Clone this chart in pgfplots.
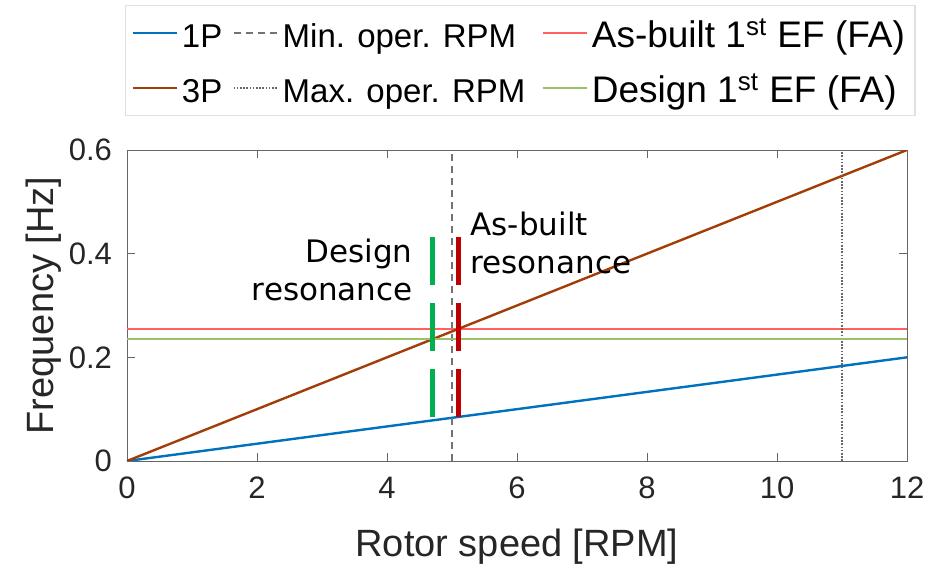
\documentclass[border=0pt]{standalone}
\usepackage{pgfplots}
\pgfplotsset{compat=1.18}
\usepackage{fontspec}
\setmainfont{Liberation Sans}
\newfontfamily\annfont{DejaVu Sans}

\definecolor{onep}{rgb}{0.0,0.447,0.741}
\definecolor{threep}{rgb}{0.64,0.24,0.03}
\definecolor{asbuilt}{rgb}{1.0,0.38,0.38}
\definecolor{design}{rgb}{0.60,0.76,0.40}
\definecolor{greenres}{rgb}{0.0,0.69,0.31}
\definecolor{redres}{rgb}{0.75,0.0,0.0}

\newcommand{\efsize}{\fontsize{18.5}{20}\selectfont}

\begin{document}
\begin{tikzpicture}
\begin{axis}[
  scale only axis,
  width=390pt, height=155.5pt,
  xmin=0, xmax=12, ymin=0, ymax=0.6,
  xtick={0,2,...,12},
  ytick={0,0.2,0.4,0.6},
  yticklabel style={/pgf/number format/fixed,/pgf/number format/precision=1, xshift=-4pt},
  xticklabel style={yshift=-4.5pt},
  /pgf/number format/assume math mode=true,
  tick align=inside,
  major tick length=4pt,
  axis line style={draw=black!60},
  tick style={draw=black!60},
  ticklabel style={font=\fontsize{15.5}{17}\selectfont, text=black!85},
  xlabel={Rotor speed [RPM]},
  ylabel={Frequency [Hz]},
  label style={font=\fontsize{19}{21}\selectfont, text=black!85},
  xlabel style={yshift=-8pt},
  ylabel style={yshift=-3pt},
  legend columns=3,
  legend style={
    at={(axis description cs:-0.0026,1.466)}, anchor=north west,
    draw=black!12, line width=0.6pt,
    font=\fontsize{16.5}{18}\selectfont,
    inner sep=3pt,
    row sep=6pt,
    cells={anchor=west, inner sep=0.5pt, text height=16pt, text depth=3.5pt},
    /tikz/every even column/.append style={column sep=3pt},
  },
  legend image code/.code={\draw[#1] (0pt,0pt) -- (22pt,0pt);},
]
% legend order, filled row by row
\addplot[onep, line width=1.2pt] coordinates {(0,0) (12,0.2)};
\addlegendentry{1P}
\addplot[black!55, line width=1.2pt, dash pattern=on 3.5pt off 2.5pt] coordinates {(5,0) (5,0.6)};
\addlegendentry{Min. oper. RPM}
\addplot[asbuilt, line width=1.2pt] coordinates {(0,0.255) (12,0.255)};
\addlegendentry{\efsize As-built 1\textsuperscript{st} EF (FA)}
\addplot[threep, line width=1.2pt] coordinates {(0,0) (12,0.6)};
\addlegendentry{3P}
\addplot[black!60, line width=1pt, dash pattern=on 0.8pt off 0.8pt] coordinates {(11,0) (11,0.6)};
\addlegendentry{Max. oper. RPM\hspace*{3pt}}
\addplot[design, line width=1.2pt] coordinates {(0,0.235) (12,0.235)};
\addlegendentry{\efsize Design 1\textsuperscript{st} EF (FA)}

% resonance markers
\addplot[forget plot, greenres, line width=2.6pt, dash pattern=on 24pt off 9pt] coordinates {(4.7,0.432) (4.7,0.085)};
\addplot[forget plot, redres, line width=2.6pt, dash pattern=on 24pt off 9pt] coordinates {(5.1,0.432) (5.1,0.085)};

\node[font=\annfont\fontsize{15.5}{19}\selectfont, align=right, anchor=east, inner sep=0pt]
  at (axis cs:4.40,0.368) {Design\\resonance};
\node[font=\annfont\fontsize{15.5}{19}\selectfont, align=left, anchor=west, inner sep=0pt]
  at (axis cs:5.28,0.42) {As-built\\resonance};

\coordinate (bl) at (rel axis cs:0,0);
\coordinate (tr) at (rel axis cs:1,1);
\end{axis}
\pgfresetboundingbox
\path[use as bounding box] ([shift={(-63.5pt,-52pt)}]bl) rectangle ([shift={(17.5pt,75pt)}]tr);
\end{tikzpicture}
\end{document}
